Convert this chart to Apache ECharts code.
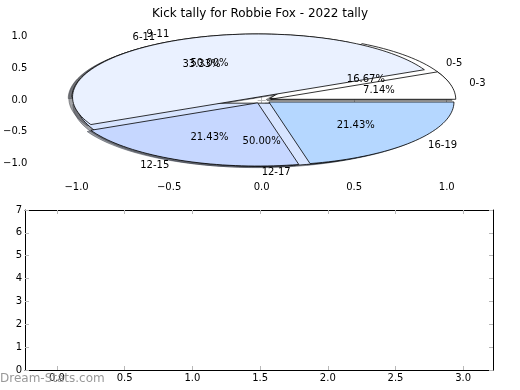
<!DOCTYPE html>
<html>
<head>
<meta charset="utf-8">
<script src="https://cdn.jsdelivr.net/npm/echarts@6/dist/echarts.min.js"></script>
<style>html,body{margin:0;padding:0;background:#fff}#c{width:520px;height:390px}</style>
</head>
<body>
<div id="c"></div>
<script>
const chartTitle = 'Kick tally for Robbie Fox - 2022 tally';
const pieALabels = ['0-5', '6-11', '12-17'];
const pieAValues = [1, 2, 3];
const pieBLabels = ['0-3', '9-11', '12-15', '16-19'];
const pieBValues = [1, 7, 3, 3];
const pieAColors = ['#ffffff', '#eaf1ff', '#d7e4ff'];
const pieBColors = ['#ffffff', '#eaf1ff', '#c6d7ff', '#b5d7ff'];
const topXTicks = [-1.0, -0.5, 0.0, 0.5, 1.0];
const topYTicks = [-1.0, -0.5, 0.0, 0.5, 1.0];
const bottomXTicks = [0.0, 0.5, 1.0, 1.5, 2.0, 2.5, 3.0];
const bottomYTicks = [0, 1, 2, 3, 4, 5, 6, 7];
const watermark = 'Dream-Stats.com';

const EXPLODE = 0.05;
const FONT = '"DejaVu Sans", sans-serif';

function buildPie(values, labels, colors) {
  const total = values.reduce((a, b) => a + b, 0);
  let cum = 0;
  return values.map((v, i) => {
    const t1 = 360 * cum / total;
    cum += v;
    const t2 = 360 * cum / total;
    const mid = (t1 + t2) / 2 * Math.PI / 180;
    return {
      t1, t2, mid,
      cx: EXPLODE * Math.cos(mid),
      cy: EXPLODE * Math.sin(mid),
      color: colors[i],
      label: labels[i],
      pct: (100 * v / total).toFixed(2) + '%'
    };
  });
}
const wedges = buildPie(pieAValues, pieALabels, pieAColors)
  .concat(buildPie(pieBValues, pieBLabels, pieBColors));

const texts = [];
wedges.forEach(w => {
  const lx = w.cx + 1.1 * Math.cos(w.mid), ly = w.cy + 1.1 * Math.sin(w.mid);
  texts.push({ x: lx, y: ly, text: w.label, align: lx > -1e-6 ? 'left' : 'right' });
});
wedges.forEach(w => {
  texts.push({ x: w.cx + 0.6 * Math.cos(w.mid), y: w.cy + 0.6 * Math.sin(w.mid), text: w.pct, align: 'center' });
});

function wedgePoints(api, w, dx, dy) {
  const pts = [api.coord([w.cx + dx, w.cy + dy])];
  const n = Math.max(8, Math.ceil((w.t2 - w.t1) / 2));
  for (let i = 0; i <= n; i++) {
    const a = (w.t1 + (w.t2 - w.t1) * i / n) * Math.PI / 180;
    pts.push(api.coord([w.cx + dx + Math.cos(a), w.cy + dy + Math.sin(a)]));
  }
  return pts;
}
function darker(hex) {
  const r = parseInt(hex.slice(1, 3), 16), g = parseInt(hex.slice(3, 5), 16), b = parseInt(hex.slice(5, 7), 16);
  return 'rgb(' + Math.round(r * 0.3) + ',' + Math.round(g * 0.3) + ',' + Math.round(b * 0.3) + ')';
}
const fmt = v => v.toFixed(1).replace('-', '\u2212');
const tickStyle = { show: true, inside: true, length: 4, lineStyle: { color: '#b8b8b8', width: 1 } };

const chart = echarts.init(document.getElementById('c'), null, { renderer: 'canvas' });
chart.setOption({
  animation: false,
  backgroundColor: '#fff',
  title: {
    text: chartTitle, left: 'center', top: 3,
    textStyle: { fontSize: 12, fontWeight: 'normal', fontFamily: FONT, color: '#000' }
  },
  grid: [
    { left: 25, top: 21, width: 468, height: 158, show: false },
    { left: 25, top: 210, width: 468, height: 160, show: false }
  ],
  xAxis: [
    { gridIndex: 0, type: 'value', min: -1.25, max: 1.25, position: 'bottom',
      axisLine: { show: false }, splitLine: { show: false },
      axisTick: Object.assign({}, tickStyle, { customValues: topXTicks }),
      axisLabel: { customValues: topXTicks, formatter: fmt, margin: 3, fontSize: 10, fontFamily: FONT, color: '#000' } },
    { gridIndex: 0, type: 'value', min: -1.25, max: 1.25, position: 'top',
      axisLine: { show: false }, splitLine: { show: false },
      axisTick: Object.assign({}, tickStyle, { customValues: topXTicks }),
      axisLabel: { show: false } },
    { gridIndex: 1, type: 'value', min: -0.236, max: 3.22, position: 'bottom',
      axisLine: { show: true, onZero: false, lineStyle: { color: '#000', width: 1 } }, splitLine: { show: false },
      axisTick: Object.assign({}, tickStyle, { customValues: bottomXTicks }),
      axisLabel: { customValues: bottomXTicks, formatter: fmt, margin: 3, fontSize: 10, fontFamily: FONT, color: '#000' } },
    { gridIndex: 1, type: 'value', min: -0.236, max: 3.22, position: 'top',
      axisLine: { show: true, onZero: false, lineStyle: { color: '#000', width: 1 } }, splitLine: { show: false },
      axisTick: Object.assign({}, tickStyle, { customValues: bottomXTicks }),
      axisLabel: { show: false } }
  ],
  yAxis: [
    { gridIndex: 0, type: 'value', min: -1.25, max: 1.25, position: 'left',
      axisLine: { show: false }, splitLine: { show: false },
      axisTick: Object.assign({}, tickStyle, { customValues: topYTicks }),
      axisLabel: { customValues: topYTicks, formatter: fmt, margin: 3, fontSize: 10, fontFamily: FONT, color: '#000' } },
    { gridIndex: 0, type: 'value', min: -1.25, max: 1.25, position: 'right',
      axisLine: { show: false }, splitLine: { show: false },
      axisTick: Object.assign({}, tickStyle, { customValues: topYTicks }),
      axisLabel: { show: false } },
    { gridIndex: 1, type: 'value', min: 0, max: 7, interval: 1, position: 'left',
      axisLine: { show: true, onZero: false, lineStyle: { color: '#000', width: 1 } }, splitLine: { show: false },
      axisTick: Object.assign({}, tickStyle, { customValues: bottomYTicks }),
      axisLabel: { customValues: bottomYTicks, formatter: v => String(v), margin: 3, fontSize: 10, fontFamily: FONT, color: '#000' } },
    { gridIndex: 1, type: 'value', min: 0, max: 7, interval: 1, position: 'right',
      axisLine: { show: true, onZero: false, lineStyle: { color: '#000', width: 1 } }, splitLine: { show: false },
      axisTick: Object.assign({}, tickStyle, { customValues: bottomYTicks }),
      axisLabel: { show: false } }
  ],
  series: [
    { type: 'custom', name: 'shadows', xAxisIndex: 0, yAxisIndex: 0, z: 1, clip: false, silent: true,
      data: wedges.map((w, i) => [0, 0, i]),
      renderItem: (params, api) => {
        const w = wedges[params.dataIndex];
        const c = darker(w.color);
        return { type: 'polygon', shape: { points: wedgePoints(api, w, -0.02, -0.02) },
          style: { fill: c, stroke: c, lineWidth: 1, opacity: 0.5 } };
      } },
    { type: 'custom', name: 'wedges', xAxisIndex: 0, yAxisIndex: 0, z: 2, clip: false, silent: true,
      data: wedges.map((w, i) => [0, 0, i]),
      renderItem: (params, api) => {
        const w = wedges[params.dataIndex];
        return { type: 'polygon', shape: { points: wedgePoints(api, w, 0, 0) },
          style: { fill: w.color, stroke: '#000', lineWidth: 0.8 } };
      } },
    { type: 'custom', name: 'texts', xAxisIndex: 0, yAxisIndex: 0, z: 3, clip: false, silent: true,
      data: texts.map((t, i) => [t.x, t.y, i]),
      renderItem: (params, api) => {
        const t = texts[params.dataIndex];
        const p = api.coord([t.x, t.y]);
        return { type: 'text', x: p[0], y: p[1],
          style: { text: t.text, font: '10px ' + FONT, fill: '#000',
            align: t.align, verticalAlign: 'middle', textAlign: t.align, textVerticalAlign: 'middle' } };
      } }
  ],
  graphic: [
    { type: 'text', left: 0, top: 373, z: 10,
      style: { text: watermark, font: '12px ' + FONT, fill: '#999' } }
  ]
});
</script>
</body>
</html>
